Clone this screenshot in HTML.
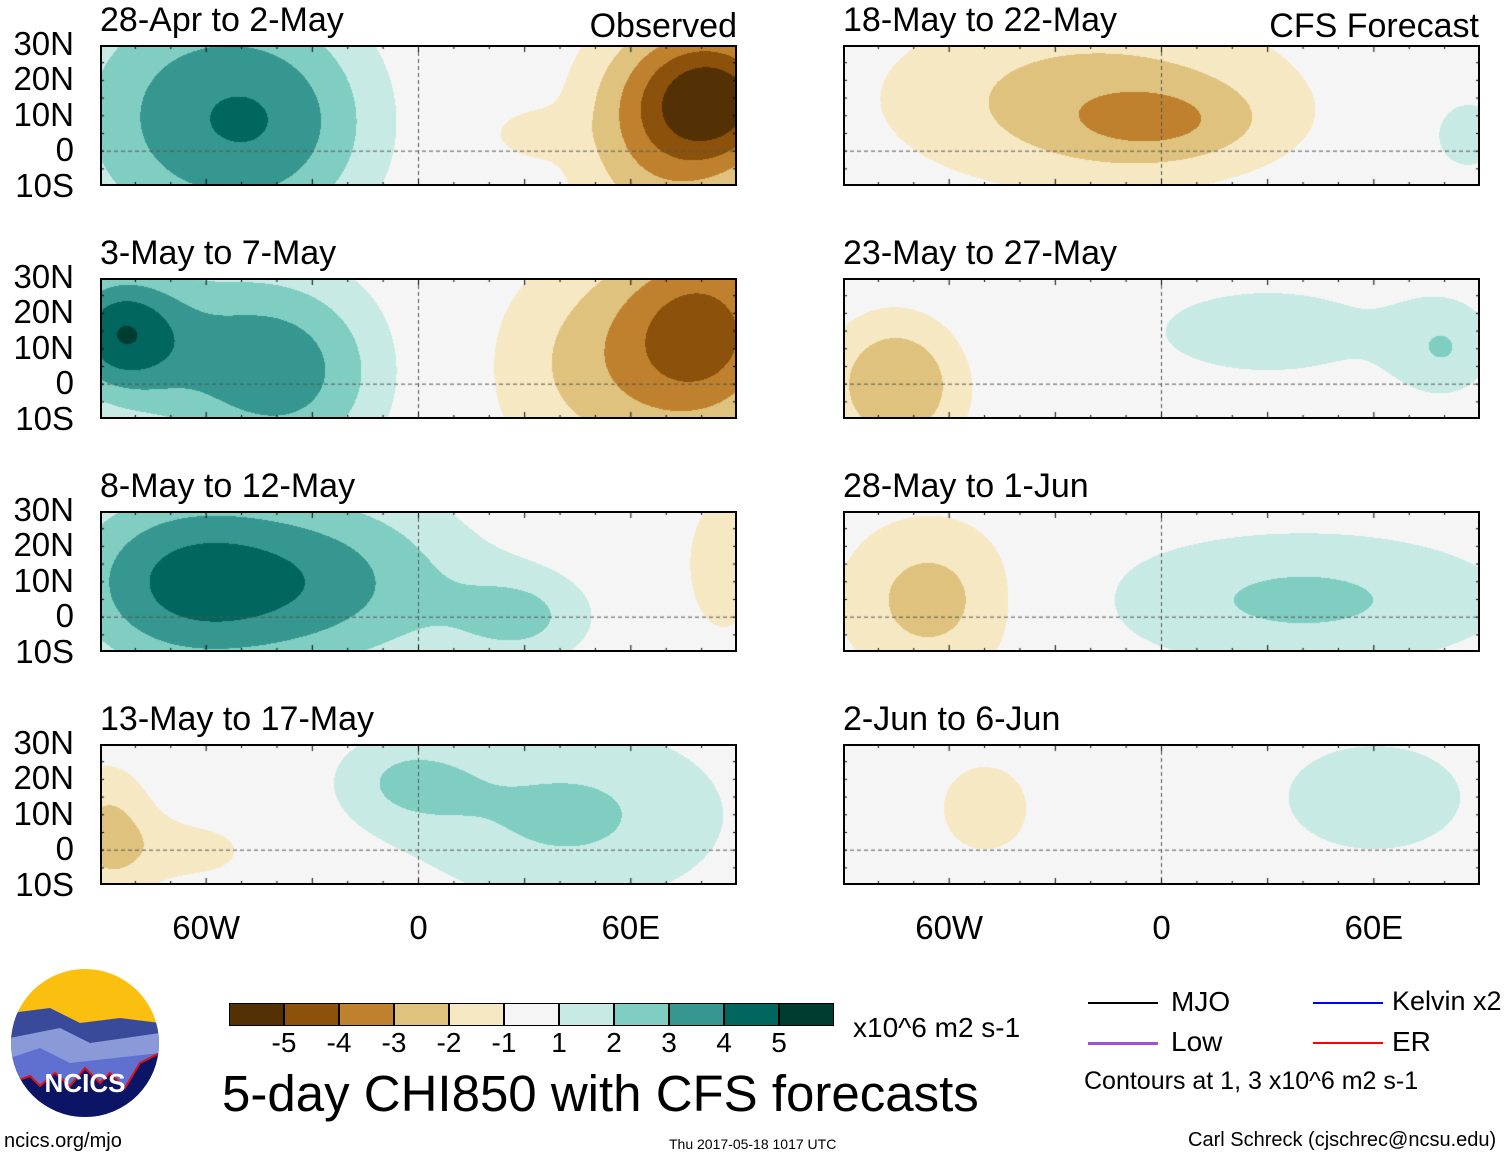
<!DOCTYPE html>
<html><head><meta charset="utf-8">
<style>
body{margin:0;background:#fff;width:1510px;height:1158px;position:relative;overflow:hidden;font-family:"Liberation Sans",sans-serif;}
.t{position:absolute;white-space:nowrap;color:#000;}
canvas{position:absolute;}
.frame{position:absolute;border:2px solid #000;box-sizing:border-box;}
</style></head><body>
<div id="root"></div>
<script>
// blobs: [lon, lat, sigmaLon, sigmaLat, amplitude]
const panelTitles = ["28-Apr to 2-May","3-May to 7-May","8-May to 12-May","13-May to 17-May","18-May to 22-May","23-May to 27-May","28-May to 1-Jun","2-Jun to 6-Jun"];
const blobs0 = [[-65,10,28,28,3.2],[-35,8,20,22,1.8],[85,15,16,14,-4.3],[68,5,20,25,-2.6],[30,5,8,5,-1.2]];
const blobs1 = [[-85,15,12,12,3.3],[-60,10,30,20,2.4],[-35,0,20,20,2.0],[82,15,18,20,-3.8],[50,5,25,25,-2.1]];
const blobs2 = [[-70,10,25,20,3.4],[-25,10,30,20,3.0],[30,0,15,10,1.9],[86,15,8,15,-2.0]];
const blobs3 = [[-88,5,10,15,-2.2],[-62,0,15,8,-1.3],[42,10,35,20,2.2],[-5,20,15,10,1.5]];
const blobs4 = [[-20,15,45,20,-2.4],[0,8,20,8,-1.4],[86,5,10,10,1.6]];
const blobs5 = [[-75,0,15,15,-3.0],[30,15,40,15,1.3],[80,10,10,10,1.5]];
const blobs6 = [[-65,5,20,18,-2.5],[40,5,45,15,2.2]];
const blobs7 = [[-50,12,12,12,-1.6],[60,15,25,15,1.6]];
const allBlobs=[blobs0,blobs1,blobs2,blobs3,blobs4,blobs5,blobs6,blobs7];
const levelColors=["#543005","#8c510a","#bf812d","#dfc27d","#f6e8c3","#f5f5f5","#c7eae5","#80cdc1","#35978f","#01665e","#003c30"];
const barLabels=["-5","-4","-3","-2","-1","1","2","3","4","5"];
const latLabels=["30N","20N","10N","0","10S"];
const lonLabels=["60W","0","60E"];

const root=document.getElementById('root');
const W=637,H=141,PPD=W/180;
const colX=[100,843], rowY=[45,278,511,744];
function lonX(l){return (l+90)*PPD;}
function latY(l){return (30-l)*PPD;}
function colorFor(v){
  if(v<=-5)return 0; if(v<=-4)return 1; if(v<=-3)return 2; if(v<=-2)return 3; if(v<=-1)return 4;
  if(v<1)return 5; if(v<2)return 6; if(v<3)return 7; if(v<4)return 8; if(v<5)return 9; return 10;
}
function hex(h){return [parseInt(h.substr(1,2),16),parseInt(h.substr(3,2),16),parseInt(h.substr(5,2),16)];}
const rgb=levelColors.map(hex);
function addText(txt,x,y,size,name,anchor){
  const d=document.createElement('div');d.className='t';d.textContent=txt;
  d.style.left=x+'px';d.style.top=y+'px';d.style.fontSize=size+'px';
  if(anchor==='r'){d.style.transform='translateX(-100%)';}
  if(anchor==='c'){d.style.transform='translateX(-50%)';}
  
  
  root.appendChild(d);return d;
}
for(let p=0;p<8;p++){
  const col=p<4?0:1,row=p%4;
  const x0=colX[col],y0=rowY[row];
  const c=document.createElement('canvas');c.width=W;c.height=H;
  c.style.left=x0+'px';c.style.top=y0+'px';
  
  
  root.appendChild(c);
  const ctx=c.getContext('2d');const img=ctx.createImageData(W,H);
  const b=allBlobs[p];
  for(let j=0;j<H;j++){const lat=30-j/PPD;
    for(let i=0;i<W;i++){const lon=i/PPD-90;let v=0;
      for(const q of b){const dx=(lon-q[0])/q[2],dy=(lat-q[1])/q[3];v+=q[4]*Math.exp(-0.5*(dx*dx+dy*dy));}
      const k=(j*W+i)*4,cc=rgb[colorFor(v)];img.data[k]=cc[0];img.data[k+1]=cc[1];img.data[k+2]=cc[2];img.data[k+3]=255;}}
  ctx.putImageData(img,0,0);
  ctx.strokeStyle='#555';ctx.setLineDash([4,3]);ctx.lineWidth=1;
  ctx.beginPath();ctx.moveTo(0,latY(0));ctx.lineTo(W,latY(0));ctx.stroke();
  ctx.beginPath();ctx.moveTo(lonX(0),0);ctx.lineTo(lonX(0),H);ctx.stroke();
  ctx.setLineDash([]);ctx.strokeStyle='#000';
  for(let l=-90;l<=90;l+=10){const x=lonX(l);ctx.beginPath();ctx.moveTo(x,0);ctx.lineTo(x,l%30===0?7:4);ctx.moveTo(x,H);ctx.lineTo(x,H-(l%30===0?7:4));ctx.stroke();}
  for(let l=-10;l<=30;l+=5){const y=latY(l);ctx.beginPath();ctx.moveTo(0,y);ctx.lineTo(4,y);ctx.moveTo(W,y);ctx.lineTo(W-4,y);ctx.stroke();}
  const f=document.createElement('div');f.className='frame';
  f.style.left=x0+'px';f.style.top=y0+'px';f.style.width=W+'px';f.style.height=H+'px';
  
  
  root.appendChild(f);
  addText(panelTitles[p],x0,y0-44,34,'panel-title-'+(p+1));
  if(col===0){for(let k=0;k<5;k++){addText(latLabels[k],74,y0+latY(30-k*10)-20,33,'lat-label','r');}}
}
addText("Observed",737,7,34,'observed-label','r');
addText("CFS Forecast",1479,7,34,'cfs-forecast-label','r');
for(let col=0;col<2;col++){for(let k=0;k<3;k++){addText(lonLabels[k],colX[col]+lonX(-60+k*60),909,33,'lon-label','c');}}
for(let k=0;k<11;k++){
  const d=document.createElement('div');d.style.position='absolute';
  d.style.left=(229+k*55)+'px';d.style.top='1003px';d.style.width='55px';d.style.height='23px';
  d.style.background=levelColors[k];d.style.border='1px solid #000';d.style.boxSizing='border-box';
  
  
  root.appendChild(d);
}
for(let k=0;k<10;k++){addText(barLabels[k],229+(k+1)*55,1027,28,'colorbar-label','c');}
</script>
<div class="t" style="left:853px;top:1012px;font-size:28px;">x10^6 m2 s-1</div>
<div class="t" style="left:222px;top:1064px;font-size:51px;">5-day CHI850 with CFS forecasts</div>
<div class="t" style="left:4px;top:1130px;font-size:20px;">ncics.org/mjo</div>
<div class="t" style="left:669px;top:1136px;font-size:14px;">Thu 2017-05-18 1017 UTC</div>
<div class="t" style="left:1188px;top:1129px;font-size:20px;">Carl Schreck (cjschrec@ncsu.edu)</div>
<div>
<div style="position:absolute;left:1088px;top:1002px;width:70px;height:2px;background:#000"></div>
<div class="t" style="left:1171px;top:986px;font-size:28px;">MJO</div>
<div style="position:absolute;left:1313px;top:1002px;width:70px;height:2px;background:#00f"></div>
<div class="t" style="left:1392px;top:986px;font-size:27px;">Kelvin x2</div>
<div style="position:absolute;left:1088px;top:1042px;width:70px;height:3px;background:#a050e0"></div>
<div class="t" style="left:1171px;top:1026px;font-size:28px;">Low</div>
<div style="position:absolute;left:1313px;top:1042px;width:70px;height:2px;background:#f00"></div>
<div class="t" style="left:1392px;top:1026px;font-size:28px;">ER</div>
<div class="t" style="left:1084px;top:1067px;font-size:25px;">Contours at 1, 3 x10^6 m2 s-1</div>
</div>
<svg style="position:absolute;left:10px;top:968px" width="150" height="150" viewBox="0 0 150 150">
<defs><clipPath id="cl"><ellipse cx="75" cy="75" rx="74" ry="74"/></clipPath></defs>
<g clip-path="url(#cl)">
<rect width="150" height="150" fill="#fbbf10"/>
<polygon points="0,45 40,40 70,55 110,50 150,55 150,150 0,150" fill="#3a4a9a"/>
<polygon points="0,70 50,60 80,75 150,65 150,150 0,150" fill="#8a9ad8"/>
<polygon points="0,90 30,80 60,95 150,85 150,150 0,150" fill="#6070d0"/>
<polygon points="0,115 20,108 30,118 45,105 60,118 75,100 90,115 100,105 115,120 130,95 150,85 150,150 0,150" fill="#0c1466" stroke="#e01010" stroke-width="2"/>
</g>
<text x="75" y="124" text-anchor="middle" font-family="Liberation Sans" font-weight="bold" font-size="26" fill="#fff">NCICS</text>
</svg>
</body></html>
